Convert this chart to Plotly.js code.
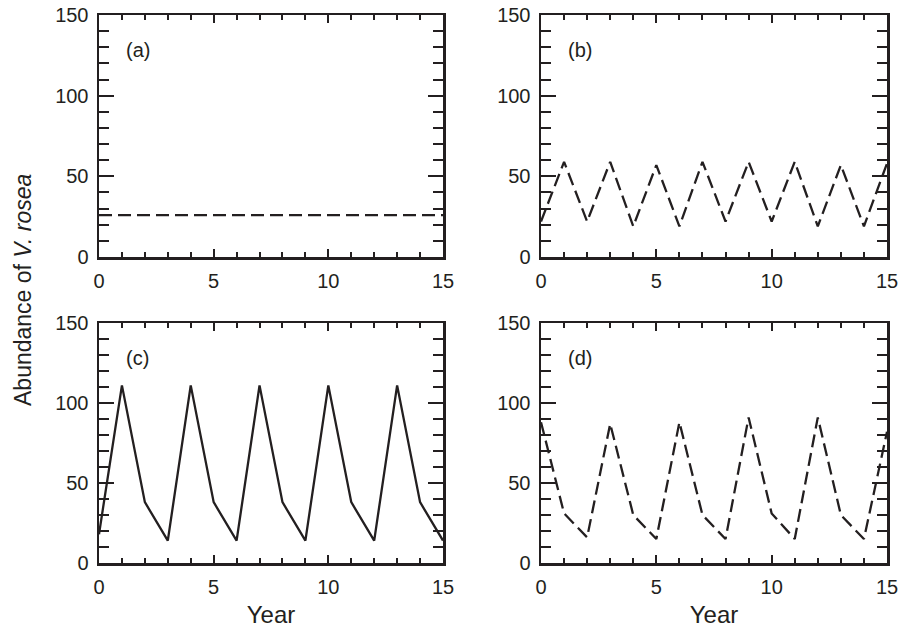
<!DOCTYPE html>
<html>
<head>
<meta charset="utf-8">
<script src="https://cdn.plot.ly/plotly-3.0.1.min.js"></script>
<style>html,body{margin:0;padding:0;background:#fff;}#chart{width:907px;height:629px;}</style>
</head>
<body>
<div id="chart"></div>
<script>
const years = [0,1,2,3,4,5,6,7,8,9,10,11,12,13,14,15];
const abundanceA = [26,26,26,26,26,26,26,26,26,26,26,26,26,26,26,26];
const abundanceB = [22,59,22,59,19,57,19,59,22,59,22,59,19,57,19,58];
const abundanceC = [18,111,38,14,111,38,14,111,38,14,111,38,14,111,38,14];
const abundanceD = [88,31,16,87,30,15,88,30,15,91,31,15,91,30,15,82];
const panelLabels = ['(a)','(b)','(c)','(d)'];
const xTicks = [0,5,10,15];
const yTicks = [0,50,100,150];
const yTitle = 'Abundance of <i>V. rosea</i>';
const xTitle = 'Year';

const ink = '#231f20';
const fontFam = '"Liberation Sans", Arial, Helvetica, sans-serif';

function xaxis(dom, anchor, showTitle){
  const a = {
    domain: dom, anchor: anchor, range:[0,15], tickvals:xTicks, ticktext:xTicks.map(String),
    ticks:'inside', ticklen:8, tickwidth:2, tickcolor:ink,
    minor:{dtick:1, ticks:'inside', ticklen:5, tickwidth:2, tickcolor:ink},
    showline:true, linewidth:2.5, linecolor:ink, mirror:'allticks',
    showgrid:false, zeroline:false, fixedrange:true,
    tickfont:{family:fontFam, size:20, color:ink}, ticklabelstandoff:4
  };
  if(showTitle) a.title = {text:xTitle, font:{family:fontFam, size:24, color:ink}, standoff:10};
  return a;
}
function yaxis(dom, anchor){
  return {
    domain: dom, anchor: anchor, range:[0,150], tickvals:yTicks, ticktext:yTicks.map(String),
    ticks:'inside', ticklen:15, tickwidth:2, tickcolor:ink,
    minor:{dtick:10, ticks:'inside', ticklen:10, tickwidth:2, tickcolor:ink},
    showline:true, linewidth:2.5, linecolor:ink, mirror:'allticks',
    showgrid:false, zeroline:false, fixedrange:true,
    tickfont:{family:fontFam, size:20, color:ink}, ticklabelstandoff:4
  };
}

const xL = [99/907, 443/907], xR = [541/907, 887/907];
const yT = [1-257/629, 1-15/629], yB = [1-563/629, 1-323/629];

const lineDash = {color:ink, width:2.3, dash:'13px,6px'};
const lineSolid = {color:ink, width:2.3};

const traces = [
  {x:years, y:abundanceA, xaxis:'x', yaxis:'y', mode:'lines', line:lineDash},
  {x:years, y:abundanceB, xaxis:'x2', yaxis:'y2', mode:'lines', line:lineDash},
  {x:years, y:abundanceC, xaxis:'x3', yaxis:'y3', mode:'lines', line:lineSolid},
  {x:years, y:abundanceD, xaxis:'x4', yaxis:'y4', mode:'lines', line:lineDash}
];

const axKeys = [['x','y'],['x2','y2'],['x3','y3'],['x4','y4']];
const annotations = panelLabels.map((t,i)=>({
  text:t, xref:axKeys[i][0], yref:axKeys[i][1], x:1.1, y:128, xanchor:'left', yanchor:'middle',
  showarrow:false, font:{family:fontFam, size:20, color:ink}
}));
annotations.push({
  text:yTitle, xref:'paper', yref:'paper', x:23/907, y:1-290/629, textangle:-90,
  xanchor:'center', yanchor:'middle', showarrow:false, font:{family:fontFam, size:23, color:ink}
});

const layout = {
  width:907, height:629, margin:{l:0,r:0,t:0,b:0},
  paper_bgcolor:'#fff', plot_bgcolor:'#fff', showlegend:false,
  xaxis: xaxis(xL,'y',false), yaxis: yaxis(yT,'x'),
  xaxis2: xaxis(xR,'y2',false), yaxis2: yaxis(yT,'x2'),
  xaxis3: xaxis(xL,'y3',true), yaxis3: yaxis(yB,'x3'),
  xaxis4: xaxis(xR,'y4',true), yaxis4: yaxis(yB,'x4'),
  annotations: annotations
};

Plotly.newPlot('chart', traces, layout, {staticPlot:true, displayModeBar:false});
</script>
</body>
</html>
